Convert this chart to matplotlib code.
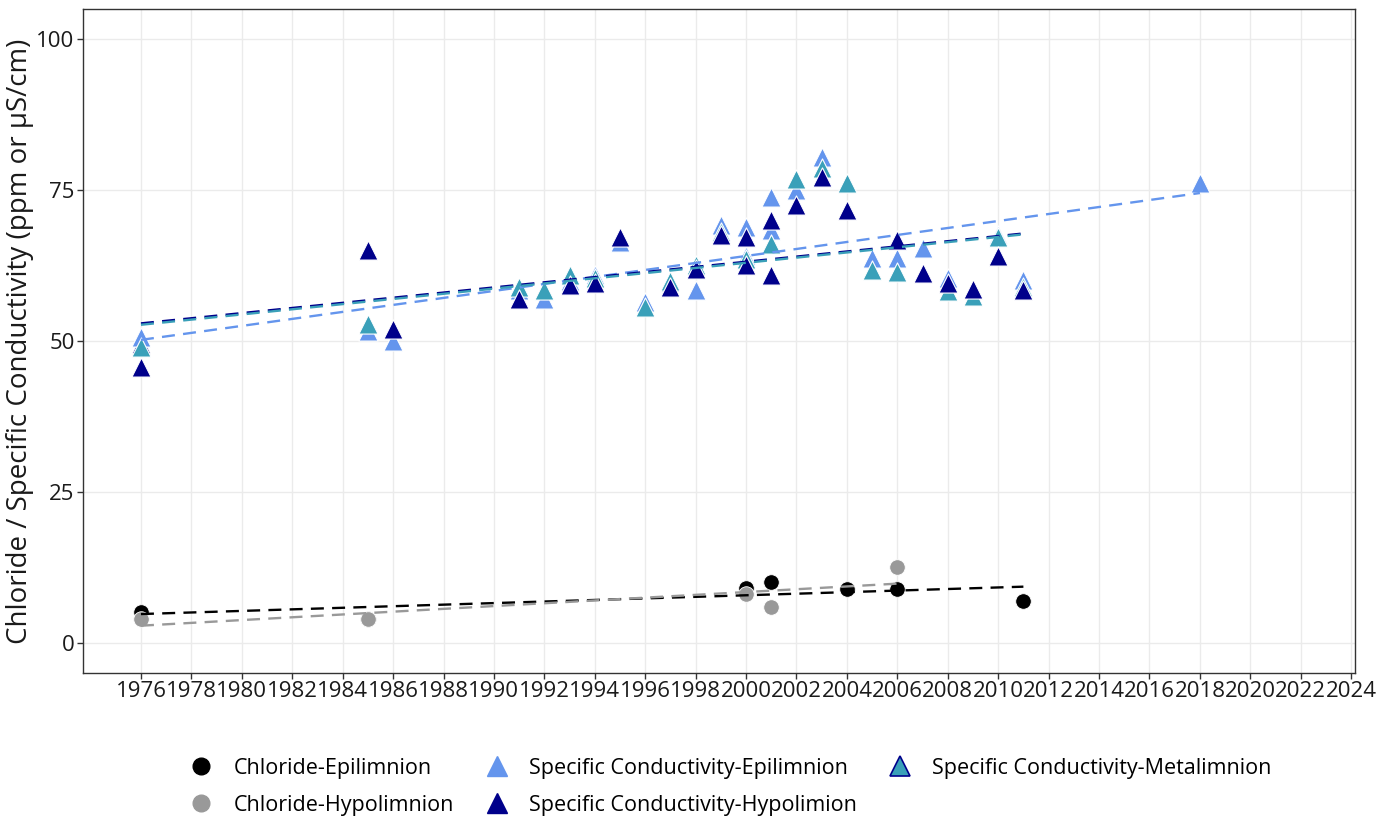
import matplotlib.pyplot as plt
from matplotlib.lines import Line2D
import numpy as np

plt.rcParams['font.family'] = ['Open Sans', 'DejaVu Sans']

# chloride (ppm)
chl_epi_year = [1976, 1985, 2000, 2001, 2004, 2006, 2011]
chl_epi = [5.1, 4.0, 9.1, 10.0, 8.9, 8.9, 6.9]
chl_hypo_year = [1976, 1985, 2000, 2001, 2006]
chl_hypo = [4.0, 4.0, 8.0, 6.0, 12.6]

# specific conductivity (uS/cm)
sc_epi_year = [1976, 1985, 1986, 1991, 1992, 1993, 1994, 1995, 1996, 1997, 1998, 1999,
               2000, 2000, 2001, 2001, 2002, 2003, 2005, 2006, 2007, 2008, 2010, 2011, 2018]
sc_epi = [50.7, 51.6, 50.0, 58.5, 57.0, 60.0, 61.0, 66.4, 56.5, 59.8, 58.4, 69.2,
          68.9, 64.0, 73.9, 68.4, 75.0, 80.5, 63.8, 63.8, 65.4, 60.4, 67.5, 60.1, 76.2]
sc_hypo_year = [1976, 1976, 1985, 1986, 1991, 1993, 1994, 1995, 1997, 1998, 1999, 2000, 2000,
                2001, 2001, 2002, 2003, 2004, 2006, 2007, 2008, 2009, 2010, 2011]
sc_hypo = [45.7, 49.5, 65.0, 52.0, 57.0, 59.3, 59.6, 67.2, 59.0, 62.0, 67.5, 67.3, 62.6,
           70.0, 61.0, 72.5, 77.2, 71.7, 66.7, 61.2, 59.6, 58.6, 64.0, 58.4]
sc_meta_year = [1976, 1985, 1991, 1992, 1993, 1994, 1996, 1997, 1998, 1999, 2000,
                2001, 2002, 2003, 2004, 2005, 2006, 2008, 2009, 2010, 2011]
sc_meta = [49.0, 52.8, 59.0, 58.5, 61.0, 60.5, 55.6, 60.0, 62.6, 68.0, 63.5,
           66.0, 76.8, 78.6, 76.2, 61.8, 61.5, 58.3, 57.5, 67.2, 59.0]

c_black = 'black'
c_grey = '#999999'
c_epi = '#6495ED'
c_hypo = '#00008B'
c_meta = '#3AA0B9'

fig = plt.figure(figsize=(13.85, 8.23), dpi=100)
ax = fig.add_axes([0.0599, 0.1823, 0.9184, 0.8068])


def trend(x, y, color):
    x = np.array(x, dtype=float)
    y = np.array(y, dtype=float)
    b, a = np.polyfit(x, y, 1)
    xs = np.array([x.min(), x.max()])
    line, = ax.plot(xs, a + b * xs, color=color, lw=1.7, zorder=4)
    line.set_dashes((5.5, 3.5))


tri = dict(marker='^', s=190, edgecolors='white', linewidths=0.8, zorder=3)
ax.scatter(sc_hypo_year[1:2], sc_hypo[1:2], color=c_hypo, **tri)
ax.scatter(sc_epi_year, sc_epi, color=c_epi, **tri)
ax.scatter(sc_meta_year, sc_meta, color=c_meta, **tri)
ax.scatter(sc_hypo_year[:1] + sc_hypo_year[2:], sc_hypo[:1] + sc_hypo[2:], color=c_hypo, **tri)

dot = dict(marker='o', s=125, edgecolors='white', linewidths=0.6, zorder=3)
ax.scatter(chl_epi_year, chl_epi, color=c_black, **dot)
ax.scatter(chl_hypo_year, chl_hypo, color=c_grey, **dot)

trend(chl_epi_year, chl_epi, c_black)
trend(chl_hypo_year, chl_hypo, c_grey)
trend(sc_epi_year, sc_epi, c_epi)
trend(sc_hypo_year, sc_hypo, c_hypo)
trend(sc_meta_year, sc_meta, c_meta)

ax.set_xlim(1973.7, 2024.15)
ax.set_ylim(-5, 105)
ax.set_xticks(np.arange(1976, 2025, 2))
ax.set_yticks([0, 25, 50, 75, 100])
ax.grid(True, color='#ebebeb', lw=1)
ax.set_axisbelow(True)
for s in ax.spines.values():
    s.set_color('#333333')
    s.set_linewidth(1)
ax.tick_params(direction='out', length=4, width=1, color='#333333',
               labelsize=16, labelcolor='#1a1a1a', pad=2)
ax.set_ylabel('Chloride / Specific Conductivity (ppm or µS/cm)', fontsize=20,
              color='#1a1a1a', labelpad=2)

handles = [
    Line2D([], [], marker='o', ls='none', color=c_black, ms=12),
    Line2D([], [], marker='o', ls='none', color=c_grey, ms=12),
    Line2D([], [], marker='^', ls='none', color=c_epi, ms=14),
    Line2D([], [], marker='^', ls='none', color=c_hypo, ms=14),
    Line2D([], [], marker='^', ls='none', markerfacecolor=c_meta,
           markeredgecolor=c_hypo, markeredgewidth=1.2, ms=14),
]
labels = ['Chloride-Epilimnion', 'Chloride-Hypolimnion',
          'Specific Conductivity-Epilimnion', 'Specific Conductivity-Hypolimion',
          'Specific Conductivity-Metalimnion']
fig.legend(handles, labels, loc='center', bbox_to_anchor=(0.527, 0.044), ncol=3,
           frameon=False, fontsize=15.5, handlelength=1.2, handletextpad=0.9,
           columnspacing=1.4, labelspacing=0.75)

fig.savefig('out.png', dpi=100)
